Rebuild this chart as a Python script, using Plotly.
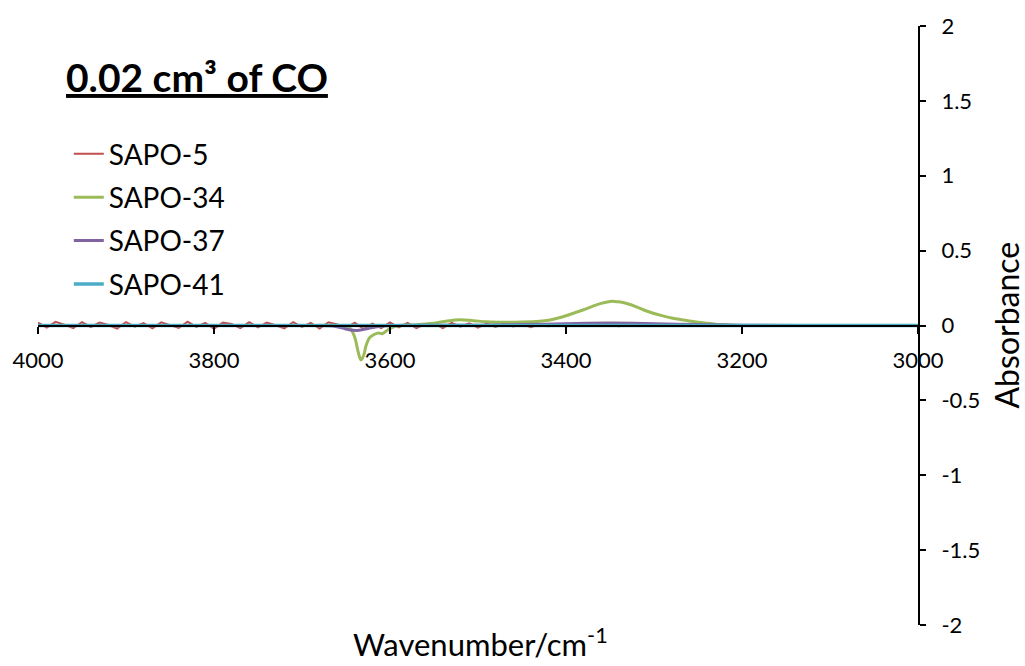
import plotly.graph_objects as go

# Wavenumber tick positions and labels
x_tick_vals = [4000, 3800, 3600, 3400, 3200, 3000]
x_tick_text = ["4000", "3800", "3600", "3400", "3200", "3000"]
y_tick_vals = [2, 1.5, 1, 0.5, 0, -0.5, -1, -1.5, -2]
y_tick_text = ["2", "1.5", "1", "0.5", "0", "-0.5", "-1", "-1.5", "-2"]

# SAPO-5: noisy baseline, sampled every 10 cm-1 from 4000 to 3000
sapo5_wn = list(range(4000, 2999, -10))
sapo5_abs = [
    0.020, -0.014, 0.024, 0.006, -0.018, 0.022, -0.010, 0.019, 0.003, -0.021,
    0.023, -0.007, 0.016, -0.019, 0.021, 0.005, -0.016, 0.025, -0.009, 0.018,
    -0.022, 0.019, 0.010, -0.017, 0.022, -0.012, 0.020, 0.002, -0.019, 0.023,
    -0.010, 0.017, -0.020, 0.022, 0.007, -0.015, 0.019, -0.023, 0.013, -0.017,
    0.020, -0.012, 0.017, -0.018, 0.010, 0.015, -0.017, 0.018, -0.008, 0.014,
    -0.015, 0.012, -0.010, 0.015, -0.007, 0.010, -0.012, 0.008, -0.005, 0.007,
    -0.006, 0.005, -0.003, 0.006, -0.004, 0.003, -0.005, 0.004, -0.003, 0.003,
    -0.004, 0.003, -0.002, 0.003, -0.003, 0.002, -0.003, 0.002, -0.001, 0.002,
    0.000, -0.002, 0.001, 0.000, -0.001, 0.002, 0.000, -0.001, 0.000, 0.001,
    0.000, -0.001, 0.000, 0.001, 0.000, -0.001, 0.000, 0.000, 0.001, 0.000,
    0.000,
]

# SAPO-34: sharp negative band near 3633 and broad positive band near 3348
sapo34_wn = [4000, 3900, 3800, 3700, 3660, 3650, 3645, 3640, 3636, 3633,
             3630, 3627, 3623, 3618, 3613, 3609, 3605, 3600, 3595, 3590,
             3570, 3550, 3535, 3520, 3505, 3490, 3470, 3450, 3430, 3420,
             3410, 3400, 3390, 3380, 3370, 3360, 3350, 3345, 3340, 3330,
             3320, 3310, 3300, 3290, 3280, 3270, 3260, 3250, 3240, 3230,
             3220, 3210, 3200, 3100, 3000]
sapo34_abs = [0.0, 0.0, 0.0, 0.0, 0.0, -0.005, -0.02, -0.08, -0.18, -0.23,
              -0.20, -0.13, -0.08, -0.06, -0.05, -0.055, -0.04, -0.02, -0.008, 0.0,
              0.005, 0.015, 0.03, 0.038, 0.032, 0.025, 0.022, 0.023, 0.028, 0.035,
              0.048, 0.065, 0.085, 0.105, 0.128, 0.148, 0.160, 0.161, 0.158, 0.145,
              0.125, 0.100, 0.080, 0.064, 0.050, 0.040, 0.030, 0.022, 0.015, 0.009,
              0.005, 0.002, 0.0, 0.0, 0.0]

# SAPO-37: weak negative band and a faint broad positive band
sapo37_wn = [4000, 3800, 3700, 3665, 3655, 3645, 3635, 3625, 3615, 3600,
             3500, 3450, 3400, 3350, 3300, 3250, 3200, 3100, 3000]
sapo37_abs = [0.0, 0.0, 0.0, -0.003, -0.015, -0.03, -0.032, -0.02, -0.008, 0.0,
              0.002, 0.006, 0.012, 0.016, 0.012, 0.006, 0.002, 0.0, 0.0]

# SAPO-41: flat baseline
sapo41_wn = [4000, 3800, 3600, 3400, 3200, 3000]
sapo41_abs = [0.0, 0.0, 0.0, 0.0, 0.0, 0.0]

FONT = "Lato"

fig = go.Figure()
series = [
    ("SAPO-5", sapo5_wn, sapo5_abs, "#C0504D", 2.0, "linear"),
    ("SAPO-34", sapo34_wn, sapo34_abs, "#9BBB59", 3.0, "spline"),
    ("SAPO-37", sapo37_wn, sapo37_abs, "#8064A2", 3.0, "spline"),
    ("SAPO-41", sapo41_wn, sapo41_abs, "#4BACC6", 3.5, "linear"),
]
for name, wn, ab, color, width, shape in series:
    fig.add_trace(go.Scatter(
        x=wn, y=ab, name=name, mode="lines", legendgroup=name,
        line=dict(color=color, width=width, shape=shape),
    ))

fig.update_layout(
    width=1025, height=666,
    margin=dict(l=37, r=107, t=22, b=41),
    paper_bgcolor="white", plot_bgcolor="white",
    font=dict(family=FONT, color="black"),
    showlegend=True,
    legend=dict(
        x=0.035, y=0.828, xanchor="left", yanchor="top",
        font=dict(size=28, family=FONT, color="black"),
        bgcolor="rgba(0,0,0,0)", tracegroupgap=4,
        traceorder="grouped", itemwidth=30,
    ),
    xaxis=dict(
        range=[4000, 3000], anchor="free", position=0.5,
        tickvals=x_tick_vals, ticktext=x_tick_text,
        showline=True, linecolor="black", linewidth=2,
        ticks="outside", ticklen=7, tickwidth=2, tickcolor="black",
        showgrid=False, zeroline=False,
        tickfont=dict(size=22, family=FONT, color="black"),
        ticklabelstandoff=8,
    ),
    yaxis=dict(
        range=[-2, 2], side="right", anchor="x",
        tickvals=y_tick_vals, ticktext=y_tick_text,
        showline=True, linecolor="black", linewidth=2,
        ticks="outside", ticklen=6, tickwidth=2, tickcolor="black",
        showgrid=False, zeroline=False,
        tickfont=dict(size=22, family=FONT, color="black"),
        ticklabelstandoff=11,
    ),
    annotations=[
        dict(text="<b><u>0.02 cm³ of CO</u></b>",
             xref="paper", yref="paper", x=0.03, y=0.915,
             xanchor="left", yanchor="middle", showarrow=False,
             font=dict(size=39, family=FONT, color="black")),
        dict(text="Wavenumber/cm<sup>-1</sup>",
             xref="paper", yref="paper", x=0.503, y=-0.03,
             xanchor="center", yanchor="middle", showarrow=False,
             font=dict(size=31, family=FONT, color="black")),
        dict(text="Absorbance", textangle=-90,
             xref="paper", yref="paper", x=1.1, y=0.5,
             xanchor="center", yanchor="middle", showarrow=False,
             font=dict(size=32, family=FONT, color="black")),
    ],
)

fig.write_html("out.html")
